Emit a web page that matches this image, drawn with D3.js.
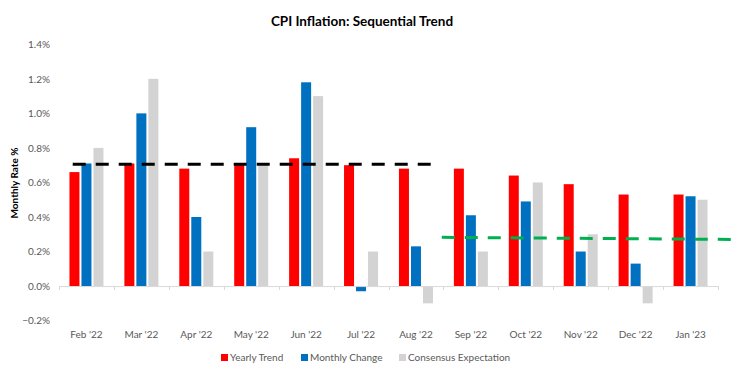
<!DOCTYPE html>
<html>
<head>
<meta charset="utf-8">
<script src="https://cdn.jsdelivr.net/npm/d3@7"></script>
<style>
  html, body { margin: 0; padding: 0; background: #fff; }
  svg { display: block; font-family: Lato, "Open Sans", sans-serif; }
</style>
</head>
<body>
<svg id="chart" width="744" height="382"></svg>
<script>
// ---- data ----
const categories = ["Feb '22", "Mar '22", "Apr '22", "May '22", "Jun '22", "Jul '22",
                    "Aug '22", "Sep '22", "Oct '22", "Nov '22", "Dec '22", "Jan '23"];
const seriesNames = ["Yearly Trend", "Monthly Change", "Consensus Expectation"];
const yearlyTrend   = [0.66, 0.71, 0.68, 0.71, 0.74, 0.70, 0.68, 0.68, 0.64, 0.59, 0.53, 0.53];
const monthlyChange = [0.71, 1.00, 0.40, 0.92, 1.18, -0.03, 0.23, 0.41, 0.49, 0.20, 0.13, 0.52];
const consensus     = [0.80, 1.20, 0.20, 0.70, 1.10, 0.20, -0.10, 0.20, 0.60, 0.30, -0.10, 0.50];
const yTicks = [-0.2, 0, 0.2, 0.4, 0.6, 0.8, 1.0, 1.2, 1.4];
// trend lines: positions in category-index units (0 = Feb '22 centre)
const blackTrendX = [-0.25, 6.3];
const blackTrendY = [0.705, 0.705];
const greenTrendX = [6.47, 11.75];
const greenTrendY = [0.282, 0.27];

const colors = ["#FF0000", "#0070C0", "#D3D3D3"];
const seriesValues = [yearlyTrend, monthlyChange, consensus];

// ---- layout ----
const svg = d3.select("#chart");
const plotLeft = 59, plotRight = 718, plotTop = 44.3, plotBottom = 320.6;

const x = d3.scaleBand().domain(categories).range([plotLeft, plotRight]).paddingInner(0).paddingOuter(0);
const x1 = d3.scaleBand().domain(seriesNames).range([-17, 17]).paddingInner(0.167).paddingOuter(0);
const y = d3.scaleLinear().domain([-0.2, 1.4]).range([plotBottom, plotTop]);
const xi = d3.scaleLinear().domain([0, 1]).range([x(categories[0]) + x.bandwidth() / 2, x(categories[1]) + x.bandwidth() / 2]);

// title
svg.append("text")
  .attr("x", 362).attr("y", 26)
  .attr("text-anchor", "middle")
  .attr("font-size", 13.5).attr("font-weight", "bold").attr("fill", "#000")
  .text("CPI Inflation: Sequential Trend");

// y axis title
svg.append("text")
  .attr("transform", "translate(18,183) rotate(-90)")
  .attr("text-anchor", "middle")
  .attr("font-size", 10).attr("font-weight", "bold").attr("fill", "#000")
  .text("Monthly Rate %");

// y axis (labels only)
const yAxis = svg.append("g")
  .attr("transform", `translate(${plotLeft - 9},0)`)
  .call(d3.axisLeft(y).tickValues(yTicks).tickFormat(d => d3.format(".1f")(d) + "%").tickSize(0).tickPadding(0));
yAxis.select(".domain").remove();
yAxis.selectAll("text").attr("font-size", 10).attr("fill", "#595959").attr("font-family", "Lato, 'Open Sans', sans-serif");

// bars
const groups = svg.append("g").selectAll("g")
  .data(categories)
  .join("g")
  .attr("transform", d => `translate(${x(d) + x.bandwidth() / 2},0)`);

groups.selectAll("rect")
  .data((c, i) => seriesNames.map((s, k) => ({ s, k, v: seriesValues[k][i] })))
  .join("rect")
  .attr("x", d => x1(d.s))
  .attr("width", x1.bandwidth())
  .attr("y", d => y(Math.max(0, d.v)))
  .attr("height", d => Math.abs(y(d.v) - y(0)))
  .attr("fill", d => colors[d.k]);

// x axis
const xAxis = svg.append("g")
  .attr("transform", `translate(0,${y(0)})`)
  .call(d3.axisBottom(x).tickSize(0).tickPadding(0).tickFormat(""));
xAxis.select(".domain").attr("stroke", "#D9D9D9").attr("stroke-width", 1);
xAxis.selectAll(".bnd")
  .data(categories.concat(["__end"]))
  .join("line")
  .attr("x1", (d, i) => Math.round(i < categories.length ? x(d) : plotRight) + 0.5)
  .attr("x2", (d, i) => Math.round(i < categories.length ? x(d) : plotRight) + 0.5)
  .attr("y1", 0).attr("y2", 4)
  .attr("stroke", "#D9D9D9");

// x labels
svg.append("g").selectAll("text")
  .data(categories)
  .join("text")
  .attr("x", d => x(d) + x.bandwidth() / 2)
  .attr("y", 338)
  .attr("text-anchor", "middle")
  .attr("font-size", 10).attr("fill", "#595959")
  .text(d => d);

// trend lines
const line = d3.line().x(d => xi(d[0])).y(d => y(d[1]));
svg.append("path")
  .datum(blackTrendX.map((v, i) => [v, blackTrendY[i]]))
  .attr("d", line)
  .attr("fill", "none").attr("stroke", "#000").attr("stroke-width", 3)
  .attr("stroke-dasharray", "13,10");
svg.append("path")
  .datum(greenTrendX.map((v, i) => [v, greenTrendY[i]]))
  .attr("d", line)
  .attr("fill", "none").attr("stroke", "#00B050").attr("stroke-width", 3)
  .attr("stroke-dasharray", "13,10");

// legend
const legendX = [221, 301, 399];
const legend = svg.append("g").selectAll("g")
  .data(seriesNames)
  .join("g")
  .attr("transform", (d, i) => `translate(${legendX[i]},354)`);
legend.append("rect").attr("width", 7).attr("height", 7).attr("fill", (d, i) => colors[i]);
legend.append("text").attr("x", 9).attr("y", 7)
  .attr("font-size", 10).attr("fill", "#595959").text(d => d);
</script>
</body>
</html>
